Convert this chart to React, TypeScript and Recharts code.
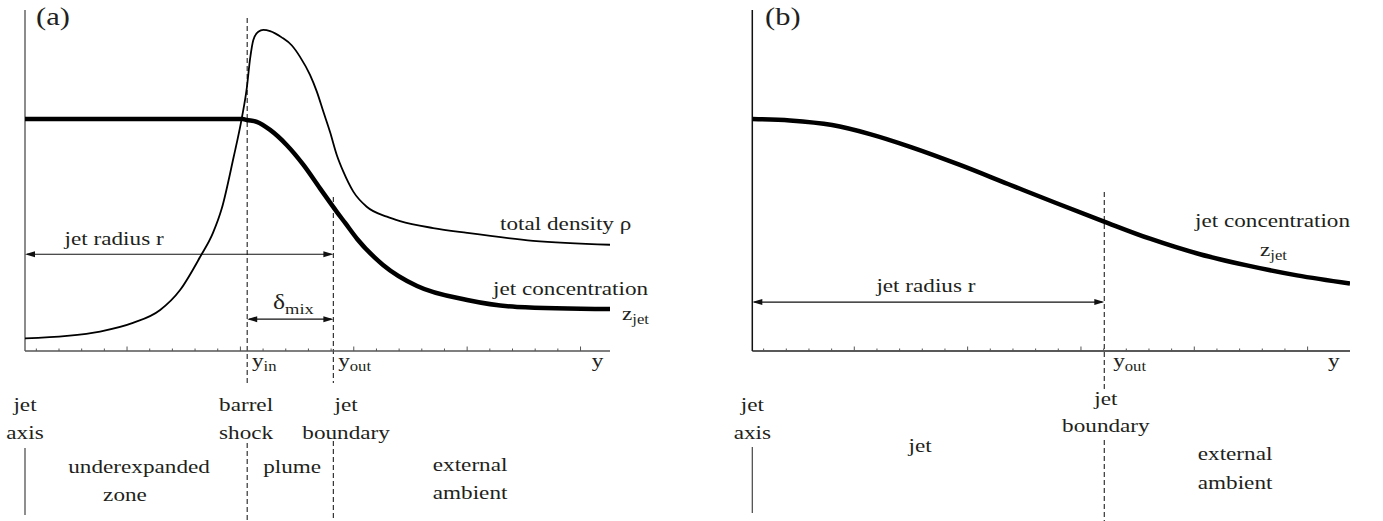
import React from 'react';
import { LineChart, Line, XAxis, YAxis, ReferenceLine, ReferenceDot } from 'recharts';

const FONT = '"Liberation Serif", "Times New Roman", Times, serif';
const INK = '#231f20';
const SX = 1.22; // the source figure is stretched horizontally

// panel (a): total density and jet concentration across the jet
const densityX = [0, 1.85, 3.31, 4.76, 5.96, 6.84, 7.72, 8.29, 8.68, 9.19, 9.56, 9.78, 9.93, 10.07, 10.29, 10.51, 10.81, 11.32, 11.76, 12.13, 12.57, 12.87, 13.16, 13.45, 13.75, 14.04, 14.48, 15.07, 15.96, 16.54, 18.0, 19.5, 22.41, 25.8];
const densityY = [0.054, 0.065, 0.084, 0.121, 0.177, 0.263, 0.405, 0.509, 0.615, 0.831, 1.003, 1.132, 1.262, 1.341, 1.376, 1.384, 1.379, 1.352, 1.318, 1.268, 1.19, 1.118, 1.031, 0.945, 0.845, 0.773, 0.687, 0.622, 0.579, 0.56, 0.53, 0.509, 0.475, 0.458];
const concAX = [0, 9.6, 9.78, 10.22, 10.81, 11.54, 12.28, 13.01, 13.75, 14.12, 14.65, 15.79, 17.29, 19.5, 21.7, 25.8];
const concAY = [1.0, 1.0, 0.996, 0.988, 0.953, 0.888, 0.802, 0.701, 0.6, 0.552, 0.483, 0.371, 0.28, 0.22, 0.19, 0.181];

// panel (b): jet concentration only
const concBX = [0, 1.66, 3.52, 5.19, 7.0, 9.16, 11.28, 13.4, 15.52, 17.55, 19.75, 21.82, 24.03, 26.37];
const concBY = [1.0, 0.994, 0.974, 0.935, 0.879, 0.802, 0.72, 0.638, 0.558, 0.484, 0.417, 0.369, 0.326, 0.291];

// axis marks
const tickPos = [0.5, 1.5, 2.5, 3.5, 4.5, 5.5, 6.5, 7.5, 8.5, 9.5, 10.5, 11.5, 12.5, 13.5, 14.5, 15.5, 16.5, 17.5, 18.5, 19.5, 20.5, 21.5, 22.5, 23.5, 24.5];
const majorTicks = [4.5, 9.5, 14.5, 19.5, 24.5];

// y_in / y_out positions
const yInA = 9.8;
const yOutA = 13.6;
const yOutB = 15.53;

const zip = (xs: number[], ys: number[]) => xs.map((x, i) => ({ x, y: ys[i] }));

const AxisTick = (props: any) => {
  const { x, y, payload } = props;
  const major = majorTicks.includes(payload.value);
  return <line x1={x} x2={x} y1={y} y2={y - (major ? 4.5 : 2.5)} stroke="#555" strokeWidth={1} />;
};

const label =
  (text: string, sub?: string, anchor: 'start' | 'middle' | 'end' = 'middle', size = 19) =>
  (p: any) => (
    <text
      transform={`translate(${p.cx},${p.cy}) scale(${SX},1)`}
      textAnchor={anchor}
      fontFamily={FONT}
      fontSize={size}
      fill={INK}
    >
      {text}
      {sub && (
        <tspan dy={size * 0.22} fontSize={size * 0.72}>
          {sub}
        </tspan>
      )}
    </text>
  );

const Arrow = (props: any) => {
  const { x1, y1, x2, y2 } = props;
  const len = 10;
  const hw = 3;
  return (
    <g>
      <line x1={x1 + 2} y1={y1} x2={x2 - 2} y2={y2} stroke="#111" strokeWidth={1.2} />
      <polygon points={`${x1},${y1} ${x1 + len},${y1 - hw} ${x1 + len},${y1 + hw}`} fill="#111" />
      <polygon points={`${x2},${y2} ${x2 - len},${y2 - hw} ${x2 - len},${y2 + hw}`} fill="#111" />
    </g>
  );
};

const dashed = (x: number, y1: number, y2: number, key: string) => (
  <ReferenceLine
    key={key}
    segment={[{ x, y: y1 }, { x, y: y2 }]}
    stroke="#333"
    strokeWidth={1.2}
    strokeDasharray="5 3"
    ifOverflow="visible"
  />
);

const text = (key: string, x: number, y: number, render: (p: any) => React.ReactElement) => (
  <ReferenceDot key={key} x={x} y={y} r={0} ifOverflow="visible" shape={render} />
);

const xAxisProps = {
  type: 'number' as const,
  dataKey: 'x',
  ticks: tickPos,
  interval: 0,
  tickSize: 0,
  tickMargin: 0,
  tickLine: false,
  height: 170,
  allowDataOverflow: true,
  tick: (p: any) => <AxisTick {...p} />,
};

const PanelA = () => (
  <LineChart width={700} height={521} margin={{ top: 10, right: 90, bottom: 0, left: 25 }}>
    <XAxis {...xAxisProps} domain={[0, 25.8]} axisLine={{ stroke: '#555', strokeWidth: 1.5 }} />
    <YAxis type="number" domain={[0, 1.47]} hide allowDataOverflow />
    <ReferenceLine x={0} stroke="#666" strokeWidth={1.5} />
    <ReferenceLine segment={[{ x: 0, y: -0.418 }, { x: 0, y: -0.707 }]} stroke="#444" strokeWidth={1.2} ifOverflow="visible" />
    {dashed(yInA, 1.435, -0.142, 'd1')}
    {dashed(yInA, -0.397, -0.733, 'd2')}
    {dashed(yOutA, 0.664, -0.138, 'd3')}
    {dashed(yOutA, -0.388, -0.733, 'd4')}
    <ReferenceLine segment={[{ x: 0, y: 0.417 }, { x: yOutA, y: 0.417 }]} ifOverflow="visible" shape={Arrow} />
    <ReferenceLine segment={[{ x: yInA, y: 0.137 }, { x: yOutA, y: 0.137 }]} ifOverflow="visible" shape={Arrow} />
    <Line data={zip(densityX, densityY)} dataKey="y" type="monotone" stroke="#000" strokeWidth={1.8} dot={false} isAnimationActive={false} />
    <Line data={zip(concAX, concAY)} dataKey="y" type="monotone" stroke="#000" strokeWidth={4.5} dot={false} isAnimationActive={false} />
    {text('a', 0.49, 1.405, label('(a)', undefined, 'start', 25))}
    {text('r', 3.93, 0.457, label('jet radius r'))}
    {text('dmix', 10.94, 0.181, label('δ', 'mix', 'start', 21))}
    {text('rho', 20.95, 0.522, label('total density ρ', undefined, 'start'))}
    {text('conc', 20.64, 0.241, label('jet concentration', undefined, 'start'))}
    {text('zjet', 26.33, 0.134, label('z', 'jet', 'start'))}
    {text('yin', 10.01, -0.069, label('y', 'in', 'start'))}
    {text('yout', 13.81, -0.069, label('y', 'out', 'start'))}
    {text('y', 25.25, -0.069, label('y'))}
    {text('jet1', 0, -0.259, label('jet'))}
    {text('axis', 0, -0.379, label('axis'))}
    {text('barrel', 9.75, -0.259, label('barrel'))}
    {text('shock', 9.75, -0.379, label('shock'))}
    {text('jet2', 14.16, -0.259, label('jet'))}
    {text('boundary', 14.16, -0.379, label('boundary'))}
    {text('under', 5.03, -0.526, label('underexpanded'))}
    {text('zone', 4.41, -0.647, label('zone'))}
    {text('plume', 11.78, -0.526, label('plume'))}
    {text('ext', 19.63, -0.517, label('external'))}
    {text('amb', 19.63, -0.638, label('ambient'))}
  </LineChart>
);

const PanelB = () => (
  <LineChart width={683} height={521} margin={{ top: 10, right: 33, bottom: 0, left: 52.3 }}>
    <XAxis {...xAxisProps} domain={[0, 26.37]} axisLine={{ stroke: '#222', strokeWidth: 1.5 }} />
    <YAxis type="number" domain={[0, 1.47]} hide allowDataOverflow />
    <ReferenceLine x={0} stroke="#111" strokeWidth={1.5} />
    <ReferenceLine segment={[{ x: 0, y: -0.414 }, { x: 0, y: -0.698 }]} stroke="#444" strokeWidth={1.2} ifOverflow="visible" />
    {dashed(yOutB, 0.685, -0.168, 'd1')}
    {dashed(yOutB, -0.384, -0.733, 'd2')}
    <ReferenceLine segment={[{ x: 0, y: 0.211 }, { x: yOutB, y: 0.211 }]} ifOverflow="visible" shape={Arrow} />
    <Line data={zip(concBX, concBY)} dataKey="y" type="monotone" stroke="#000" strokeWidth={4.5} dot={false} isAnimationActive={false} />
    {text('b', 0.56, 1.405, label('(b)', undefined, 'start', 25))}
    {text('r', 7.66, 0.254, label('jet radius r'))}
    {text('conc', 19.53, 0.534, label('jet concentration', undefined, 'start'))}
    {text('zjet', 22.4, 0.409, label('z', 'jet', 'start'))}
    {text('yout', 15.92, -0.069, label('y', 'out', 'start'))}
    {text('y', 25.66, -0.069, label('y'))}
    {text('jet1', 0, -0.259, label('jet'))}
    {text('axis', 0, -0.379, label('axis'))}
    {text('jet', 7.4, -0.435, label('jet'))}
    {text('jet2', 15.6, -0.233, label('jet'))}
    {text('boundary', 15.6, -0.349, label('boundary'))}
    {text('ext', 21.3, -0.47, label('external'))}
    {text('amb', 21.3, -0.595, label('ambient'))}
  </LineChart>
);

export default function App() {
  return (
    <div style={{ position: 'absolute', left: 0, top: 0, width: 1383, height: 521, background: '#fff' }}>
      <div style={{ position: 'absolute', left: 0, top: 0 }}>
        <PanelA />
      </div>
      <div style={{ position: 'absolute', left: 700, top: 0 }}>
        <PanelB />
      </div>
    </div>
  );
}
